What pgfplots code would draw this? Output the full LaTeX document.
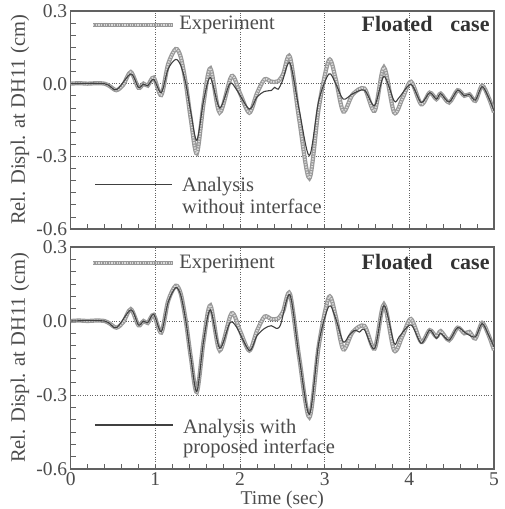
\documentclass[border=0pt]{standalone}
\usepackage{pgfplots}
\usepackage{pgfplotstable}
\pgfplotsset{compat=1.18}
\usepackage{fontspec}
\setmainfont{Liberation Serif}
\newfontfamily\tnr{Liberation Serif}

\definecolor{axgray}{gray}{0.38}
\definecolor{txtgray}{gray}{0.30}
\definecolor{expgray}{gray}{0.60}
\definecolor{explight}{gray}{0.86}
\definecolor{anagray}{gray}{0.25}

\pgfplotstableread{
t v
0.00 0.000
0.10 0.002
0.20 0.000
0.30 0.002
0.40 0.000
0.46 -0.010
0.54 -0.027
0.62 -0.005
0.71 0.048
0.80 -0.017
0.86 0.000
0.91 -0.008
0.98 0.025
1.07 -0.047
1.15 0.080
1.24 0.143
1.30 0.110
1.36 0.000
1.42 -0.150
1.49 -0.288
1.57 -0.080
1.65 0.063
1.76 -0.119
1.90 0.031
2.00 -0.040
2.11 -0.120
2.20 -0.040
2.29 0.018
2.37 0.008
2.45 0.010
2.51 0.040
2.59 0.110
2.70 -0.150
2.82 -0.390
2.93 -0.100
3.05 0.097
3.13 0.020
3.22 -0.115
3.33 -0.045
3.47 -0.020
3.59 -0.112
3.70 0.067
3.82 -0.119
3.92 -0.060
4.02 0.008
4.14 -0.085
4.24 -0.037
4.32 -0.064
4.37 -0.041
4.47 -0.078
4.57 -0.027
4.65 -0.050
4.71 -0.044
4.78 -0.071
4.86 -0.008
4.94 -0.060
5.00 -0.118
}\experiment

\pgfplotstableread{
t v
0.00 0.000
0.40 0.000
0.54 -0.025
0.71 0.040
0.80 -0.015
0.86 -0.002
0.91 -0.008
0.98 0.018
1.07 -0.037
1.15 0.060
1.24 0.100
1.30 0.075
1.36 0.000
1.42 -0.120
1.49 -0.234
1.57 -0.070
1.65 0.025
1.76 -0.100
1.88 0.000
1.96 -0.025
2.11 -0.105
2.20 -0.055
2.29 -0.032
2.37 -0.028
2.41 -0.015
2.45 -0.023
2.50 0.010
2.59 0.085
2.70 -0.110
2.82 -0.297
2.93 -0.070
3.05 0.040
3.13 0.000
3.22 -0.064
3.33 -0.042
3.47 -0.027
3.59 -0.090
3.70 0.030
3.82 -0.071
3.88 -0.057
4.02 -0.003
4.14 -0.078
4.24 -0.037
4.32 -0.064
4.37 -0.041
4.47 -0.076
4.57 -0.027
4.65 -0.050
4.71 -0.044
4.78 -0.068
4.86 -0.012
4.94 -0.060
5.00 -0.112
}\anawithout

\pgfplotstableread{
t v
0.00 0.000
0.40 0.000
0.54 -0.027
0.71 0.045
0.80 -0.016
0.86 0.000
0.91 -0.007
0.98 0.027
1.07 -0.043
1.15 0.075
1.24 0.135
1.30 0.105
1.36 0.000
1.42 -0.150
1.49 -0.286
1.57 -0.080
1.65 0.045
1.76 -0.110
1.88 -0.008
1.96 -0.025
2.11 -0.119
2.20 -0.060
2.29 -0.030
2.37 -0.019
2.43 -0.030
2.48 -0.014
2.59 0.106
2.70 -0.150
2.82 -0.378
2.93 -0.090
3.05 0.060
3.13 0.010
3.22 -0.085
3.29 -0.057
3.36 -0.037
3.41 -0.045
3.47 -0.035
3.59 -0.112
3.70 0.063
3.82 -0.090
3.88 -0.064
4.02 -0.016
4.14 -0.090
4.24 -0.037
4.32 -0.070
4.37 -0.050
4.47 -0.078
4.57 -0.027
4.67 -0.050
4.78 -0.064
4.86 -0.010
4.94 -0.060
5.00 -0.105
}\anawith

\tikzset{
  lgd/.style={font=\tnr\fontsize{20.5}{24}\selectfont, text=txtgray, inner sep=0pt},
  ttl/.style={font=\tnr\fontsize{22}{26}\selectfont\bfseries, text=black!80, inner sep=0pt},
}
\pgfplotsset{
  panel/.style={
    scale only axis, width=423.3pt,
    xmin=0, xmax=5, ymin=-0.6, ymax=0.3,
    xtick={0,1,2,3,4,5}, ytick={-0.6,-0.3,0,0.3},
    yticklabels={-0.6,-0.3,0.0,0.3},
    minor x tick num=4, minor y tick num=5,
    tick align=inside, tick pos=left,
    major tick length=5pt, minor tick length=5pt,
    every tick/.style={axgray, line width=0.6pt},
    axis line style={axgray, line width=1.1pt},
    grid=major, major grid style={axgray, dotted, line width=0.8pt},
    ticklabel style={font=\tnr\fontsize{19.5}{22}\selectfont, text=txtgray},
    ylabel={Rel. Displ. at DH11 (cm)},
    ylabel style={font=\tnr\fontsize{20.5}{24}\selectfont, text=txtgray,
      at={(rel axis cs:-0.12,0.5)}, anchor=center},
  },
  expA/.style={expgray, line width=4.2pt, smooth, no markers},
  expB/.style={explight, line width=1.8pt, dash pattern=on 1.3pt off 1.3pt, smooth, no markers},
  ana/.style={anagray, line width=1.1pt, smooth, no markers},
}

\begin{document}
\begin{tikzpicture}
\path[use as bounding box] (0,0) rectangle (504pt,509pt);

\begin{axis}[panel, at={(70.7pt,280pt)}, anchor=south west, height=218pt,
  xticklabels={}]
\addplot[expA] table[x=t,y=v] {\experiment};
\addplot[expB] table[x=t,y=v] {\experiment};
\addplot[ana] table[x=t,y=v] {\anawithout};
\draw[expgray, line width=4.2pt] (rel axis cs:0.053,0.936) -- (rel axis cs:0.242,0.936);
\draw[explight, line width=1.8pt, dash pattern=on 1.3pt off 1.3pt] (rel axis cs:0.053,0.936) -- (rel axis cs:0.242,0.936);
\node[lgd, anchor=base west] at (rel axis cs:0.256,0.913) {Experiment};
\node[ttl, anchor=base east] at (rel axis cs:0.990,0.908) {Floated\hspace{18pt}case};
\draw[anagray, line width=1.1pt] (rel axis cs:0.058,0.206) -- (rel axis cs:0.239,0.206);
\node[lgd, anchor=base west] at (rel axis cs:0.263,0.170) {Analysis};
\node[lgd, anchor=base west] at (rel axis cs:0.263,0.073) {without interface};
\end{axis}

\begin{axis}[panel, at={(70.7pt,40pt)}, anchor=south west, height=222pt,
  xticklabels={0,1,2,3,4,5},
  xlabel={Time (sec)},
  xlabel style={font=\tnr\fontsize{19.5}{22}\selectfont, text=txtgray, yshift=2pt}]
\addplot[expA] table[x=t,y=v] {\experiment};
\addplot[expB] table[x=t,y=v] {\experiment};
\addplot[ana] table[x=t,y=v] {\anawith};
\draw[expgray, line width=4.2pt] (rel axis cs:0.053,0.927) -- (rel axis cs:0.242,0.927);
\draw[explight, line width=1.8pt, dash pattern=on 1.3pt off 1.3pt] (rel axis cs:0.053,0.927) -- (rel axis cs:0.242,0.927);
\node[lgd, anchor=base west] at (rel axis cs:0.256,0.905) {Experiment};
\node[ttl, anchor=base east] at (rel axis cs:0.990,0.900) {Floated\hspace{18pt}case};
\draw[anagray, line width=1.1pt] (rel axis cs:0.057,0.198) -- (rel axis cs:0.242,0.198);
\node[lgd, anchor=base west] at (rel axis cs:0.265,0.162) {Analysis with};
\node[lgd, anchor=base west] at (rel axis cs:0.265,0.072) {proposed interface};
\end{axis}
\end{tikzpicture}
\end{document}
